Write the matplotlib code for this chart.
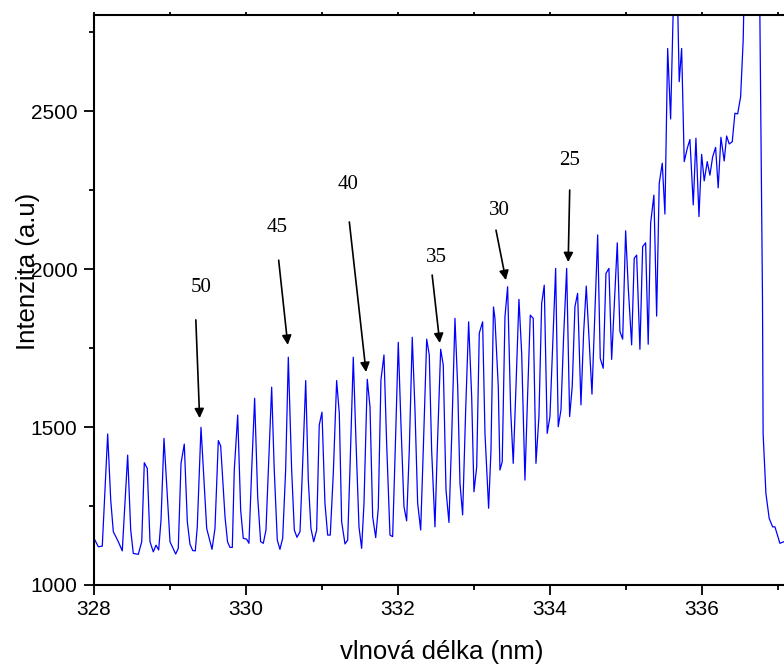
import numpy as np
import matplotlib
matplotlib.use("Agg")
import matplotlib.pyplot as plt
from matplotlib.ticker import MultipleLocator

# spektrum
wavelength = [
    327.98, 328.000, 328.057, 328.109, 328.180, 328.220, 328.254, 328.320, 328.372, 328.443,
    328.483, 328.517, 328.583, 328.628, 328.662, 328.701, 328.737, 328.780, 328.816, 328.851,
    328.882, 328.921, 329.000, 329.075, 329.109, 329.145, 329.188, 329.228, 329.263, 329.299,
    329.333, 329.359, 329.408, 329.483, 329.553, 329.592, 329.636, 329.667, 329.724, 329.757,
    329.789, 329.820, 329.846, 329.891, 329.930, 329.964, 330.009, 330.039, 330.075, 330.114,
    330.154, 330.193, 330.228, 330.263, 330.338, 330.372, 330.412, 330.447, 330.483, 330.522,
    330.557, 330.601, 330.636, 330.671, 330.711, 330.741, 330.786, 330.820, 330.855, 330.891,
    330.930, 330.964, 331.000, 331.039, 331.075, 331.109, 331.149, 331.193, 331.228, 331.259,
    331.303, 331.338, 331.368, 331.412, 331.447, 331.487, 331.522, 331.553, 331.579, 331.596,
    331.632, 331.667, 331.707, 331.741, 331.776, 331.816, 331.851, 331.895, 331.930, 331.964,
    332.004, 332.039, 332.079, 332.114, 332.149, 332.188, 332.224, 332.259, 332.299, 332.333,
    332.378, 332.412, 332.443, 332.487, 332.517, 332.562, 332.596, 332.632, 332.671, 332.707,
    332.750, 332.786, 332.816, 332.851, 332.891, 332.930, 332.970, 333.000, 333.036, 333.070,
    333.114, 333.145, 333.193, 333.224, 333.257, 333.276, 333.320, 333.342, 333.372, 333.408,
    333.443, 333.483, 333.517, 333.553, 333.592, 333.628, 333.671, 333.707, 333.741, 333.780,
    333.816, 333.855, 333.891, 333.925, 333.964, 334.000, 334.036, 334.075, 334.109, 334.145,
    334.180, 334.220, 334.259, 334.293, 334.329, 334.364, 334.408, 334.443, 334.478, 334.518,
    334.553, 334.592, 334.628, 334.662, 334.701, 334.737, 334.776, 334.812, 334.846, 334.886,
    334.921, 334.957, 334.996, 335.030, 335.075, 335.109, 335.141, 335.184, 335.220, 335.259,
    335.293, 335.325, 335.368, 335.404, 335.438, 335.478, 335.513, 335.549, 335.588, 335.655,
    335.701, 335.733, 335.767, 335.807, 335.842, 335.886, 335.921, 335.961, 335.996, 336.030,
    336.070, 336.105, 336.141, 336.180, 336.214, 336.250, 336.293, 336.325, 336.359, 336.399,
    336.434, 336.470, 336.509, 336.543, 336.590, 336.650, 336.720, 336.755, 336.797, 336.805,
    336.842, 336.885, 336.930, 336.961, 337.026, 337.079,
]
intensity = [
    1160, 1148, 1121, 1123, 1478, 1269, 1169, 1137, 1108, 1411,
    1174, 1100, 1097, 1137, 1387, 1369, 1137, 1105, 1126, 1111,
    1206, 1464, 1137, 1098, 1116, 1385, 1446, 1200, 1129, 1109,
    1108, 1184, 1499, 1179, 1113, 1179, 1457, 1440, 1216, 1137,
    1119, 1119, 1364, 1538, 1237, 1148, 1145, 1132, 1364, 1591,
    1279, 1137, 1132, 1174, 1626, 1364, 1142, 1113, 1148, 1364,
    1721, 1364, 1174, 1151, 1169, 1353, 1647, 1332, 1179, 1137,
    1174, 1506, 1547, 1259, 1158, 1158, 1353, 1647, 1543, 1200,
    1130, 1142, 1364, 1721, 1459, 1184, 1116, 1259, 1501, 1651,
    1564, 1216, 1150, 1243, 1649, 1728, 1448, 1158, 1153, 1427,
    1768, 1512, 1248, 1203, 1427, 1784, 1554, 1259, 1174, 1427,
    1778, 1728, 1427, 1184, 1427, 1746, 1696, 1301, 1198, 1469,
    1844, 1628, 1322, 1222, 1554, 1833, 1596, 1295, 1374, 1797,
    1833, 1480, 1243, 1427, 1880, 1844, 1628, 1364, 1390, 1849,
    1944, 1554, 1385, 1628, 1904, 1733, 1332, 1607, 1854, 1844,
    1385, 1533, 1891, 1949, 1480, 1533, 1754, 2002, 1501, 1554,
    1786, 2002, 1533, 1628, 1881, 1923, 1570, 1797, 1946, 1765,
    1604, 1870, 2108, 1717, 1686, 1986, 2002, 1714, 1881, 2083,
    1802, 1778, 2121, 1944, 1760, 2034, 2044, 1746, 2071, 2083,
    1762, 2145, 2234, 1851, 2271, 2335, 2174, 2698, 2475, 3150,
    2593, 2698, 2340, 2382, 2410, 2203, 2414, 2166, 2363, 2279,
    2340, 2297, 2355, 2385, 2257, 2417, 2342, 2421, 2396, 2403,
    2493, 2491, 2545, 2725, 3300, 5000, 4000, 3000, 1902, 1480,
    1290, 1211, 1184, 1184, 1132, 1137,
]

# čísla čar a šipky
line_labels = ["50", "45", "40", "35", "30", "25"]
label_x = [329.41, 330.41, 331.34, 332.50, 333.34, 334.26]
label_y = [1943, 2133, 2266, 2035, 2184, 2345]
arrow_start_x = [329.34, 330.43, 331.36, 332.45, 333.29, 334.26]
arrow_start_y = [1839, 2028, 2149, 1981, 2123, 2250]
arrow_end_x = [329.39, 330.55, 331.58, 332.55, 333.42, 334.24]
arrow_end_y = [1528, 1760, 1674, 1766, 1965, 2022]

plt.rcParams['font.family'] = ['Liberation Sans', 'DejaVu Sans']

fig = plt.figure(figsize=(7.84, 6.64), dpi=100)
ax = fig.add_axes([94 / 784, 1 - 585 / 664, 1 - 94 / 784, (585 - 15) / 664])

ax.plot(wavelength, intensity, color='#0000ff', lw=0.9)

for i in range(len(line_labels)):
    ax.annotate("", xy=(arrow_end_x[i], arrow_end_y[i]),
                xytext=(arrow_start_x[i], arrow_start_y[i]),
                arrowprops=dict(arrowstyle='-|>', color='k', lw=1.2,
                                mutation_scale=14, shrinkA=0, shrinkB=0))
    ax.text(label_x[i], label_y[i], line_labels[i], ha='center', va='center',
            fontsize=15, family='Liberation Serif')

ax.set_xlim(328, 337.08)
ax.set_ylim(1000, 2804)
ax.xaxis.set_major_locator(MultipleLocator(2))
ax.xaxis.set_minor_locator(MultipleLocator(1))
ax.yaxis.set_major_locator(MultipleLocator(500))
ax.yaxis.set_minor_locator(MultipleLocator(250))

ax.spines['right'].set_visible(False)
for s in ['left', 'bottom', 'top']:
    ax.spines[s].set_linewidth(1.5)

ax.tick_params(which='major', direction='out', length=7, width=1.3, labelsize=15)
ax.tick_params(which='minor', direction='out', length=3.5, width=1.3)
ax.tick_params(axis='y', which='major', pad=5)
ax.tick_params(axis='x', which='both', top=True, labeltop=False)
ax.tick_params(axis='x', which='both', top=True)
for t in ax.xaxis.get_ticklines(minor=False)[1::2] + ax.xaxis.get_ticklines(minor=True)[1::2]:
    t.set_markersize(2)

fig.text(442 / 784, 1 - 652 / 664, "vlnová délka (nm)", ha='center', va='center', fontsize=18.5)
fig.text(28 / 784, 1 - 271 / 664, "Intenzita (a.u)", ha='center', va='center',
         rotation=90, fontsize=18.5)

fig.savefig("out.png", dpi=100)
